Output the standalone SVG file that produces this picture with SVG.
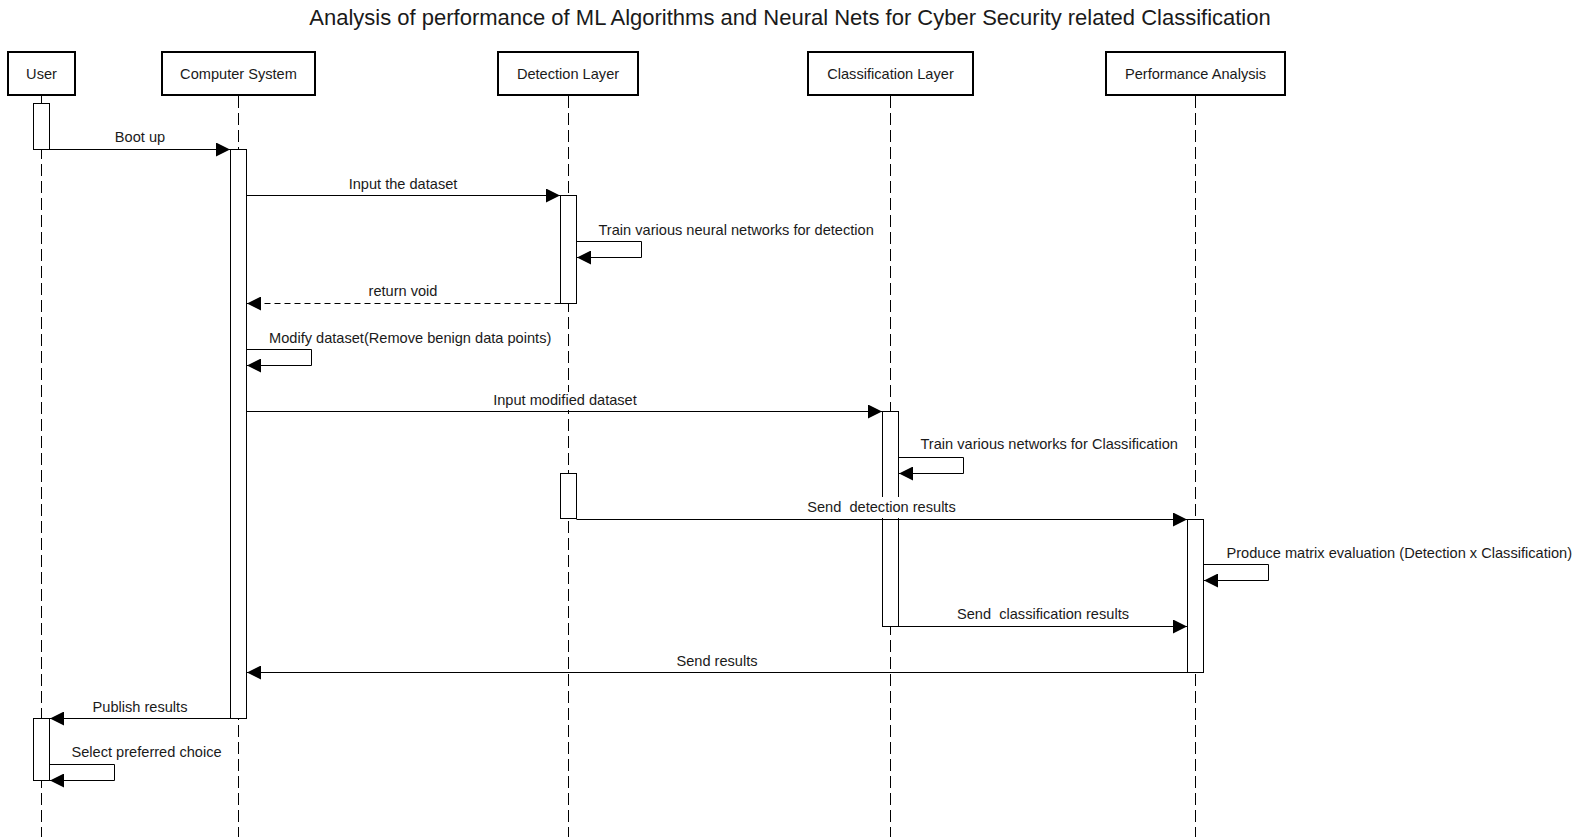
<svg xmlns="http://www.w3.org/2000/svg" width="1581" height="837" viewBox="0 0 1581 837">
<style>
  text { font-family: "Liberation Sans", Arial, Helvetica, sans-serif; fill: #1a1a1a; }
  .title { font-size: 22px; text-anchor: middle; }
  .hdr { fill: #ffffff; stroke: #000000; stroke-width: 2; }
  .hdrt { font-size: 14.6px; text-anchor: middle; }
  .life { stroke: #000000; stroke-width: 1; stroke-dasharray: 12 5; fill: none; }
  .act { fill: #ffffff; stroke: #000000; stroke-width: 1; }
  .msg { stroke: #000000; stroke-width: 1; fill: none; marker-end: url(#arr); }
  .ret { stroke: #000000; stroke-width: 1; fill: none; stroke-dasharray: 6 4; marker-end: url(#arr); }
  .lbl { font-size: 14.6px; text-anchor: middle; }
  .lbls { font-size: 14.6px; text-anchor: start; }
  .bg { fill: #ffffff; stroke: none; }
</style>
<defs>
  <marker id="arr" markerUnits="userSpaceOnUse" markerWidth="14" markerHeight="14" viewBox="0 0 12 12" refX="12" refY="6" orient="auto">
    <path d="M0,0 L12,6 L0,12 Z" fill="#000000"/>
  </marker>
</defs>
<rect x="0" y="0" width="1581" height="837" fill="#ffffff"/>
<text class="title" x="790" y="25">Analysis of performance of ML Algorithms and Neural Nets for Cyber Security related Classification</text>

<g id="lifelines">
  <line class="life" x1="41.5" y1="96" x2="41.5" y2="837"/>
  <line class="life" x1="238.5" y1="96" x2="238.5" y2="837"/>
  <line class="life" x1="568.5" y1="96" x2="568.5" y2="837"/>
  <line class="life" x1="890.5" y1="96" x2="890.5" y2="837"/>
  <line class="life" x1="1195.5" y1="96" x2="1195.5" y2="837"/>
</g>

<g id="user">
  <rect class="hdr" x="8" y="52" width="67" height="43"/>
  <text class="hdrt" x="41.5" y="79">User</text>
  <rect class="act" x="33.5" y="103.5" width="16" height="46"/>
  <rect class="act" x="33.5" y="718.5" width="16" height="62"/>
</g>
<g id="computer-system">
  <rect class="hdr" x="162" y="52" width="153" height="43"/>
  <text class="hdrt" x="238.5" y="79">Computer System</text>
  <rect class="act" x="230.5" y="149.5" width="16" height="569"/>
</g>
<g id="detection-layer">
  <rect class="hdr" x="498" y="52" width="140" height="43"/>
  <text class="hdrt" x="568" y="79">Detection Layer</text>
  <rect class="act" x="560.5" y="195.5" width="16" height="108"/>
  <rect class="act" x="560.5" y="473.5" width="16" height="45"/>
</g>
<g id="classification-layer">
  <rect class="hdr" x="808" y="52" width="165" height="43"/>
  <text class="hdrt" x="890.5" y="79">Classification Layer</text>
  <rect class="act" x="882.5" y="411.5" width="16" height="215"/>
</g>
<g id="performance-analysis">
  <rect class="hdr" x="1106" y="52" width="179" height="43"/>
  <text class="hdrt" x="1195.5" y="79">Performance Analysis</text>
  <rect class="act" x="1187.5" y="519.5" width="16" height="153"/>
</g>

<g id="connectors">
  <line class="msg" x1="49.5" y1="149.5" x2="230" y2="149.5"/>
  <text class="lbl" x="140" y="142">Boot up</text>

  <line class="msg" x1="246.5" y1="195.5" x2="560" y2="195.5"/>
  <text class="lbl" x="403" y="188.5">Input the dataset</text>

  <polyline class="msg" points="576.5,241.5 641.5,241.5 641.5,257.5 577,257.5"/>
  <text class="lbls" x="598.5" y="234.5">Train various neural networks for detection</text>

  <line class="ret" x1="560.5" y1="303.5" x2="247" y2="303.5"/>
  <text class="lbl" x="403" y="296">return void</text>

  <polyline class="msg" points="246.5,349.5 311.5,349.5 311.5,365.5 247,365.5"/>
  <text class="lbls" x="269" y="343">Modify dataset(Remove benign data points)</text>

  <line class="msg" x1="246.5" y1="411.5" x2="882" y2="411.5"/>
  <rect class="bg" x="490" y="392" width="150" height="18"/>
  <text class="lbl" x="565" y="404.5">Input modified dataset</text>

  <polyline class="msg" points="898.5,457.5 963.5,457.5 963.5,473.5 899,473.5"/>
  <text class="lbls" x="920.5" y="449">Train various networks for Classification</text>

  <line class="msg" x1="576.5" y1="519.5" x2="1187" y2="519.5"/>
  <rect class="bg" x="805" y="497" width="154" height="21"/>
  <text class="lbl" x="881.5" y="511.5" xml:space="preserve">Send  detection results</text>

  <polyline class="msg" points="1203.5,564.5 1268.5,564.5 1268.5,580.5 1204,580.5"/>
  <text class="lbls" x="1226.5" y="558">Produce matrix evaluation (Detection x Classification)</text>

  <line class="msg" x1="898.5" y1="626.5" x2="1187" y2="626.5"/>
  <text class="lbl" x="1043" y="619" xml:space="preserve">Send  classification results</text>

  <line class="msg" x1="1187.5" y1="672.5" x2="247" y2="672.5"/>
  <text class="lbl" x="717" y="665.5">Send results</text>

  <line class="msg" x1="230.5" y1="718.5" x2="50" y2="718.5"/>
  <text class="lbl" x="140" y="711.5">Publish results</text>

  <polyline class="msg" points="49.5,764.5 114.5,764.5 114.5,780.5 50,780.5"/>
  <text class="lbls" x="71.5" y="757">Select preferred choice</text>
</g>
</svg>
